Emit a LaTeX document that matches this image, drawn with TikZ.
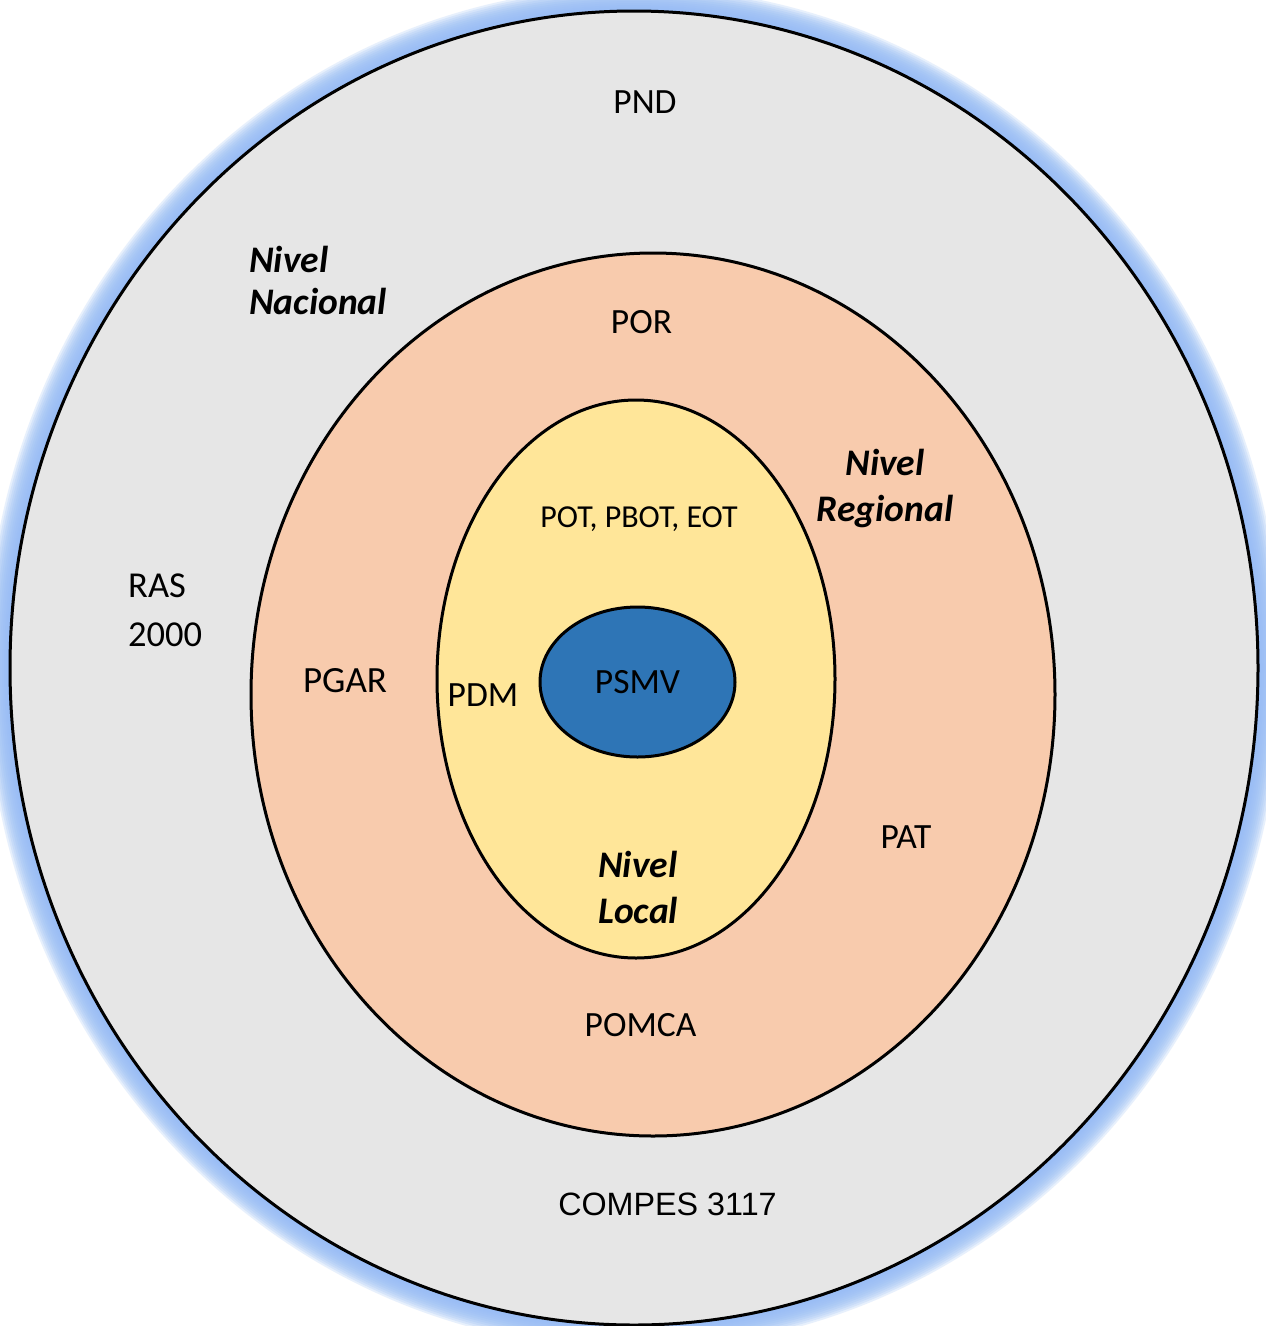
\documentclass[tikz,border=0pt]{standalone}
\usepackage{fontspec}
\setmainfont{Carlito}
\newfontfamily\arialfont{Liberation Sans}
\definecolor{outergray}{RGB}{230,230,230}
\definecolor{regorange}{RGB}{248,203,173}
\definecolor{locyellow}{RGB}{255,230,153}
\definecolor{coreblue}{RGB}{46,117,182}
\definecolor{glowblue}{RGB}{150,188,245}
\tikzset{
  ring/.style={draw=black, line width=3pt},
  lbl/.style={inner sep=0pt, anchor=base, font=\fontsize{35.5}{42}\selectfont},
  small/.style={inner sep=0pt, anchor=base, font=\fontsize{32}{38}\selectfont},
  level/.style={inner sep=0pt, anchor=base, font=\fontsize{37.5}{42}\selectfont\bfseries\itshape, align=left},
}
\begin{document}
\begin{tikzpicture}[x=1pt,y=-1pt]
  \useasboundingbox (0,0) rectangle (1266,1326);
  \fill[white] (0,0) rectangle (1266,1326);
  % soft blue halo around the national ring
  \foreach \w in {48,44,...,4}
    \draw[glowblue, line width=\w pt, opacity=0.22] (634,668) ellipse [x radius=624, y radius=657];
  % national level
  \draw[ring, fill=outergray] (634,668) ellipse [x radius=624, y radius=657];
  % regional level
  \draw[ring, fill=regorange] (653,694.5) ellipse [x radius=402, y radius=441.5];
  % local level
  \draw[ring, fill=locyellow] (636,679) ellipse [x radius=199, y radius=279];
  % core
  \draw[ring, fill=coreblue] (637.5,682) ellipse [x radius=97.5, y radius=75];

  % labels (multi-line nodes are placed by the baseline of their last line)
  \node[lbl] (pnd) at (645,113) {PND};
  \node[level, anchor=base west] (nacional) at (249,314) {Nivel\\Nacional};
  \node[lbl] (por) at (641.5,333) {POR};
  \node[level, align=center, font=\fontsize{37.5}{46}\selectfont\bfseries\itshape] (regional) at (885,521) {Nivel\\Regional};
  \node[small] (pot) at (639,527) {POT, PBOT, EOT};
  \node[lbl, align=left, anchor=base west, font=\fontsize{36.5}{49}\selectfont] (ras) at (128,646) {RAS\\2000};
  \node[lbl, font=\fontsize{37}{42}\selectfont] (pgar) at (345,692) {PGAR};
  \node[lbl] (pdm) at (483,706.5) {PDM};
  \node[lbl] (psmv) at (637.5,693) {PSMV};
  \node[lbl] (pat) at (906,848) {PAT};
  \node[level, anchor=base west, font=\fontsize{37.5}{46}\selectfont\bfseries\itshape] (local) at (598,923) {Nivel\\Local};
  \node[lbl] (pomca) at (640.5,1036.5) {POMCA};
  \node[inner sep=0pt, anchor=base, font=\arialfont\fontsize{32.3}{38}\selectfont] (compes) at (667.5,1215.5) {COMPES 3117};
\end{tikzpicture}
\end{document}
